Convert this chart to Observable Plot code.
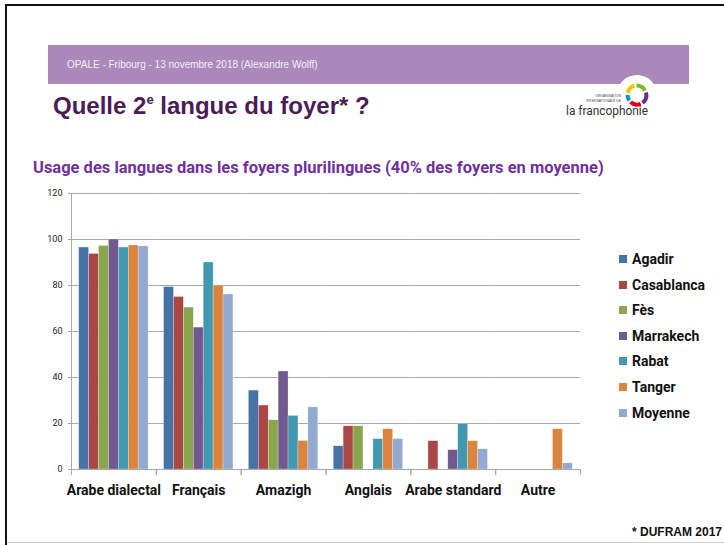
<!DOCTYPE html>
<html><head><meta charset="utf-8">
<script src="https://cdn.jsdelivr.net/npm/d3@7"></script>
<script src="https://cdn.jsdelivr.net/npm/@observablehq/plot@0.6"></script>
<style>
body{margin:0;background:#fff;}
#slide{position:relative;width:724px;height:545px;overflow:hidden;background:#fff;}
.abs{position:absolute;}
#bTop{left:5px;top:4px;right:0;height:2px;background:#111;}
#bLeft{left:5px;top:4px;width:2px;bottom:0;background:#111;}
#bBottom{left:7px;top:542px;right:0;height:1px;background:#cfcfcf;}
#banner{left:48px;top:45px;width:641px;height:39px;background:#AB87BA;}
#bannerText{left:67px;top:59px;font:10px "Liberation Sans",Arial,sans-serif;color:#f4f0f6;white-space:nowrap;}
#title{left:53px;top:92px;font:bold 24px "Liberation Sans",Arial,sans-serif;color:#4B1C56;white-space:nowrap;}
#title sup{font-size:13px;vertical-align:top;position:relative;top:0px;}
#chartTitle{left:33px;top:158px;font:700 16.5px Roboto,"Open Sans",sans-serif;color:#7030A0;white-space:nowrap;}
#chart{left:0;top:180px;}
#legend{left:619px;top:0;}
.lg{position:absolute;left:0;white-space:nowrap;font:700 14px Roboto,"Open Sans",sans-serif;color:#111;}
.lg span{display:inline-block;width:8px;height:8px;margin-right:5px;vertical-align:1px;}
#foot{right:2px;top:525px;font:bold 12px "Liberation Sans",Arial,sans-serif;color:#111;white-space:nowrap;}
#logo{left:560px;top:60px;}
</style></head><body>
<div id="slide">
  <div id="banner" class="abs"></div>
  <div id="bannerText" class="abs">OPALE - Fribourg - 13 novembre 2018 (Alexandre Wolff)</div>
  <svg id="logo" class="abs" width="110" height="65" viewBox="0 0 110 65">
    <circle cx="77" cy="35" r="20" fill="#fff"/>
    <g fill="none" stroke-width="4">
      <path d="M 67.6 33 A 9.6 9.6 0 0 1 74.5 25.7" stroke="#F2C500"/>
      <path d="M 76.5 25.4 A 9.6 9.6 0 0 1 85 30.5" stroke="#7DB928"/>
      <path d="M 86 32.5 A 9.6 9.6 0 0 1 82.5 42.8" stroke="#6A2C8E"/>
      <path d="M 80.7 43.9 A 9.6 9.6 0 0 1 70.5 42" stroke="#E2001A"/>
      <path d="M 69.3 40.5 A 9.6 9.6 0 0 1 67.5 35" stroke="#0096D6"/>
    </g>
    <text x="61" y="37" text-anchor="end" font-family="Liberation Sans" font-size="3.4" fill="#444">ORGANISATION</text>
    <text x="61" y="41.5" text-anchor="end" font-family="Liberation Sans" font-size="3.4" fill="#444">INTERNATIONALE DE</text>
    <text x="6" y="55" font-family="Roboto,sans-serif" font-size="12.5" fill="#333" textLength="82" lengthAdjust="spacingAndGlyphs">la francophonie</text>
  </svg>
  <div id="title" class="abs">Quelle 2<sup>e</sup> langue du foyer* ?</div>
  <div id="chartTitle" class="abs">Usage des langues dans les foyers plurilingues (40% des foyers en moyenne)</div>
  <div id="chart" class="abs"></div>
  <div id="legend" class="abs"></div>
  <div id="foot" class="abs">* DUFRAM 2017</div>
  <div id="bTop" class="abs"></div>
  <div id="bLeft" class="abs"></div>
  <div id="bBottom" class="abs"></div>
</div>
<script>
const categories = ["Arabe dialectal", "Français", "Amazigh", "Anglais", "Arabe standard", "Autre"];
const cities = ["Agadir", "Casablanca", "Fès", "Marrakech", "Rabat", "Tanger", "Moyenne"];
const colors = ["#4572A7", "#AA4643", "#89A54E", "#71588F", "#4198AF", "#DB843D", "#93A9CF"];
const agadir     = [96.5, 79.3, 34.3, 10.1, 0, 0];
const casablanca = [93.7, 75.0, 27.8, 18.8, 12.3, 0];
const fes        = [97.2, 70.4, 21.4, 18.8, 0, 0];
const marrakech  = [100.0, 61.7, 42.6, 0, 8.4, 0];
const rabat      = [96.5, 90.0, 23.3, 13.2, 19.8, 0];
const tanger     = [97.4, 80.0, 12.4, 17.5, 12.3, 17.5];
const moyenne    = [97.0, 76.1, 27.0, 13.2, 8.8, 2.7];
const yTicks = [0, 20, 40, 60, 80, 100, 120];

const series = [agadir, casablanca, fes, marrakech, rabat, tanger, moyenne];
const rows = [];
categories.forEach((cat, i) => {
  cities.forEach((city, j) => {
    const v = series[j][i];
    if (v > 0) rows.push({category: cat, city, value: v});
  });
});

const H = 330, MT = 13, MB = 41;
const chart = Plot.plot({
  width: 724,
  height: H,
  marginLeft: 71,
  marginRight: 144,
  marginTop: MT,
  marginBottom: MB,
  style: {fontFamily: "Roboto, 'Open Sans', sans-serif", background: "transparent", overflow: "visible", color: "#222"},
  fx: {domain: categories, padding: 0, round: false, label: null},
  x: {domain: cities, paddingInner: 0, paddingOuter: 0.78, round: false, axis: null},
  y: {domain: [0, 120], label: null},
  color: {domain: cities, range: colors},
  marks: [
    Plot.gridY(yTicks.filter(t => t > 0), {stroke: "#a8a8a8", strokeOpacity: 1}),
    Plot.axisY(yTicks, {tickSize: 3, tickPadding: 6, fontSize: 9, stroke: "#a8a8a8", label: null}),
    Plot.frame({anchor: "left", facetAnchor: "left", stroke: "#a8a8a8"}),
    Plot.barY(rows, {fx: "category", x: "city", y: "value", fill: "city", stroke: "#ffffff", strokeOpacity: 0.45, strokeWidth: 0.6}),
    Plot.ruleY([0], {stroke: "#a8a8a8"}),
    Plot.frame({anchor: "left", insetTop: H - MT - MB, insetBottom: -5, stroke: "#a8a8a8"}),
    Plot.frame({anchor: "right", insetTop: H - MT - MB, insetBottom: -5, stroke: "#a8a8a8"}),
    Plot.axisFx({anchor: "bottom", tickSize: 0, tickPadding: 16, fontSize: 14, fontWeight: "bold", fill: "#111", label: null})
  ]
});
document.getElementById("chart").appendChild(chart);

const legend = document.getElementById("legend");
cities.forEach((c, i) => {
  const d = document.createElement("div");
  d.className = "lg";
  d.style.top = (251 + i * 25.6) + "px";
  d.innerHTML = `<span style="background:${colors[i]}"></span>${c}`;
  legend.appendChild(d);
});
</script>
</body></html>
